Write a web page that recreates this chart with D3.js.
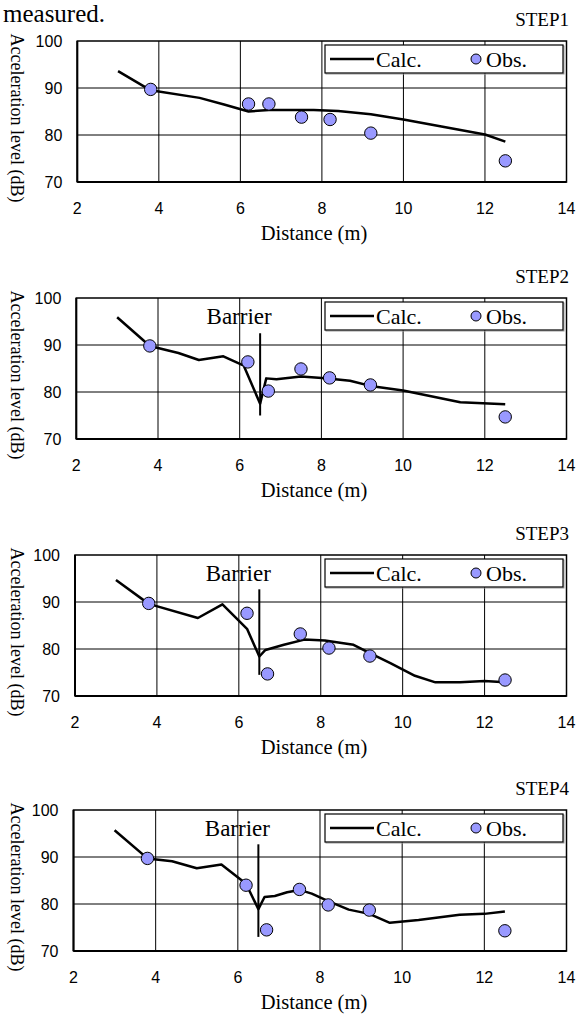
<!DOCTYPE html>
<html>
<head>
<meta charset="utf-8">
<script src="https://cdn.jsdelivr.net/npm/d3@7"></script>
<style>
  body { margin: 0; background: #fff; }
  svg { display: block; }
</style>
</head>
<body>
<div id="chart"></div>
<script>
// Observed points (same distances in every step)
const obsX = [3.8, 6.2, 6.7, 7.5, 8.2, 9.2, 12.5];
const obsStep1 = [89.7, 86.6, 86.6, 83.8, 83.3, 80.4, 74.5];
const obsStep2 = [89.8, 86.4, 80.2, 84.9, 83.0, 81.5, 74.7];
const obsStep3 = [89.7, 87.6, 74.7, 83.2, 80.2, 78.5, 73.4];
const obsStep4 = [89.7, 84.0, 74.5, 83.1, 79.8, 78.7, 74.3];

// Calculated curves
const calcX1 = [3.0, 3.8, 5.0, 5.6, 6.2, 6.7, 7.8, 8.4, 9.2, 10.0, 11.0, 12.0, 12.5];
const calcY1 = [93.6, 89.5, 87.9, 86.5, 85.0, 85.3, 85.3, 85.1, 84.4, 83.3, 81.7, 80.1, 78.6];
const calcX2 = [3.0, 3.8, 4.5, 5.0, 5.6, 6.1, 6.5, 6.65, 6.9, 7.5, 8.1, 8.7, 9.2, 10.0, 11.4, 12.5];
const calcY2 = [95.9, 89.8, 88.3, 86.8, 87.6, 85.6, 77.5, 82.9, 82.7, 83.3, 82.9, 82.4, 81.3, 80.3, 77.8, 77.4];
const calcX3 = [3.0, 3.8, 5.0, 5.6, 6.2, 6.5, 6.65, 7.1, 7.6, 8.1, 8.8, 9.2, 9.7, 10.3, 10.8, 11.4, 12.0, 12.5];
const calcY3 = [94.7, 89.6, 86.6, 89.5, 84.3, 78.4, 79.8, 80.9, 82.0, 81.8, 80.9, 79.1, 77.0, 74.3, 72.9, 72.9, 73.2, 72.9];
const calcX4 = [3.0, 3.8, 4.4, 5.0, 5.6, 6.2, 6.5, 6.65, 6.9, 7.2, 7.5, 7.8, 8.2, 8.7, 9.2, 9.7, 10.4, 11.4, 12.0, 12.5];
const calcY4 = [95.7, 89.7, 89.1, 87.6, 88.4, 84.3, 78.9, 81.5, 81.7, 82.5, 83.0, 82.2, 80.6, 78.8, 77.9, 76.0, 76.6, 77.7, 77.9, 78.4];

// Barrier (x position, top and bottom level), none in STEP1
const barrierX = 6.5;
const barrierTop = [null, 92.5, 92.7, 92.7];
const barrierBottom = [null, 75.0, 74.5, 73.0];

const stepNames = ["STEP1", "STEP2", "STEP3", "STEP4"];
const xTicks = [2, 4, 6, 8, 10, 12, 14];
const yTicks = [70, 80, 90, 100];

const panels = [
  {name: stepNames[0], cx: calcX1, cy: calcY1, obs: obsStep1, bt: barrierTop[0], bb: barrierBottom[0]},
  {name: stepNames[1], cx: calcX2, cy: calcY2, obs: obsStep2, bt: barrierTop[1], bb: barrierBottom[1]},
  {name: stepNames[2], cx: calcX3, cy: calcY3, obs: obsStep3, bt: barrierTop[2], bb: barrierBottom[2]},
  {name: stepNames[3], cx: calcX4, cy: calcY4, obs: obsStep4, bt: barrierTop[3], bb: barrierBottom[3]}
];

// panel placement (slightly skewed like the scan)
const layout = [
  {top: 41, left: 77.3},
  {top: 298, left: 76.3},
  {top: 555, left: 75},
  {top: 810, left: 73.5}
];
const plotRight = 566.5, plotH = 141;

const serif = "'Liberation Serif', 'Times New Roman', serif";
const sans = "'Liberation Sans', Arial, sans-serif";

const svg = d3.select("#chart").append("svg")
  .attr("width", 578).attr("height", 1016);

svg.append("text")
  .attr("x", 3).attr("y", 22)
  .style("font-family", serif).style("font-size", "25px")
  .text("measured.");

panels.forEach(function(p, i) {
  const L = layout[i];
  const x = d3.scaleLinear().domain([2, 14]).range([L.left, plotRight]);
  const y = d3.scaleLinear().domain([70, 100]).range([L.top + plotH, L.top]);
  const g = svg.append("g");

  // grid
  g.selectAll("line.hg").data([80, 90]).enter().append("line")
    .attr("x1", x(2)).attr("x2", x(14))
    .attr("y1", d => y(d)).attr("y2", d => y(d))
    .attr("stroke", "#000").attr("stroke-width", 1);
  g.selectAll("line.vg").data([4, 6, 8, 10, 12]).enter().append("line")
    .attr("y1", y(70)).attr("y2", y(100))
    .attr("x1", d => x(d)).attr("x2", d => x(d))
    .attr("stroke", "#000").attr("stroke-width", 1);

  // frame
  g.append("rect")
    .attr("x", x(2)).attr("y", y(100))
    .attr("width", x(14) - x(2)).attr("height", y(70) - y(100))
    .attr("fill", "none").attr("stroke", "#000").attr("stroke-width", 1.5);
  g.append("line").attr("x1", x(2)).attr("x2", x(14)).attr("y1", y(70)).attr("y2", y(70))
    .attr("stroke", "#000").attr("stroke-width", 2);
  g.append("line").attr("x1", x(2)).attr("x2", x(2)).attr("y1", y(70)).attr("y2", y(100))
    .attr("stroke", "#000").attr("stroke-width", 2);

  // tick labels
  g.selectAll("text.yt").data(yTicks).enter().append("text")
    .attr("x", x(2) - 15).attr("y", d => y(d))
    .attr("text-anchor", "end").attr("dominant-baseline", "central")
    .style("font-family", sans).style("font-size", "16px")
    .text(d => d);
  g.selectAll("text.xt").data(xTicks).enter().append("text")
    .attr("x", d => x(d)).attr("y", y(70) + 32)
    .attr("text-anchor", "middle")
    .style("font-family", sans).style("font-size", "16px")
    .text(d => d);

  // axis titles
  g.append("text")
    .attr("x", 314).attr("y", y(70) + 58)
    .attr("text-anchor", "middle")
    .style("font-family", serif).style("font-size", "20.5px")
    .text("Distance (m)");
  g.append("text")
    .attr("transform", "translate(10.5," + (L.top + 77) + ") rotate(90)")
    .attr("text-anchor", "middle")
    .style("font-family", serif).style("font-size", "18px")
    .text("Acceleration level (dB)");

  g.append("text")
    .attr("x", 569).attr("y", L.top - 15)
    .attr("text-anchor", "end")
    .style("font-family", serif).style("font-size", "19px")
    .text(p.name);

  // barrier
  if (p.bt !== null) {
    g.append("line")
      .attr("x1", x(barrierX)).attr("x2", x(barrierX))
      .attr("y1", y(p.bt)).attr("y2", y(p.bb))
      .attr("stroke", "#000").attr("stroke-width", 2);
    g.append("text")
      .attr("x", x(barrierX) - 21).attr("y", L.top + 26)
      .attr("text-anchor", "middle")
      .style("font-family", serif).style("font-size", "23px")
      .text("Barrier");
  }

  // calculated line
  const line = d3.line().x(d => x(d[0])).y(d => y(d[1]));
  g.append("path")
    .datum(p.cx.map((v, k) => [v, p.cy[k]]))
    .attr("d", line)
    .attr("fill", "none").attr("stroke", "#000").attr("stroke-width", 2.5)
    .attr("stroke-linejoin", "round");

  // observed points
  g.selectAll("circle.obs").data(obsX.map((v, k) => [v, p.obs[k]])).enter().append("circle")
    .attr("cx", d => x(d[0])).attr("cy", d => y(d[1])).attr("r", 6.2)
    .attr("fill", "#9999ff").attr("stroke", "#000").attr("stroke-width", 1);

  // legend
  const lt = L.top + 4;
  g.append("rect")
    .attr("x", 326).attr("y", lt + 1).attr("width", 238).attr("height", 28)
    .attr("fill", "none").attr("stroke", "#999").attr("stroke-width", 1);
  g.append("rect")
    .attr("x", 325).attr("y", lt).attr("width", 238).attr("height", 28)
    .attr("fill", "#fff").attr("stroke", "#000").attr("stroke-width", 1.2);
  g.append("line")
    .attr("x1", 330).attr("x2", 374).attr("y1", lt + 14).attr("y2", lt + 14)
    .attr("stroke", "#000").attr("stroke-width", 2.5);
  g.append("text")
    .attr("x", 376).attr("y", lt + 22)
    .style("font-family", serif).style("font-size", "22px")
    .text("Calc.");
  g.append("circle")
    .attr("cx", 476).attr("cy", lt + 14).attr("r", 5)
    .attr("fill", "#9999ff").attr("stroke", "#000").attr("stroke-width", 1);
  g.append("text")
    .attr("x", 486).attr("y", lt + 22)
    .style("font-family", serif).style("font-size", "22px")
    .text("Obs.");
});
</script>
</body>
</html>
